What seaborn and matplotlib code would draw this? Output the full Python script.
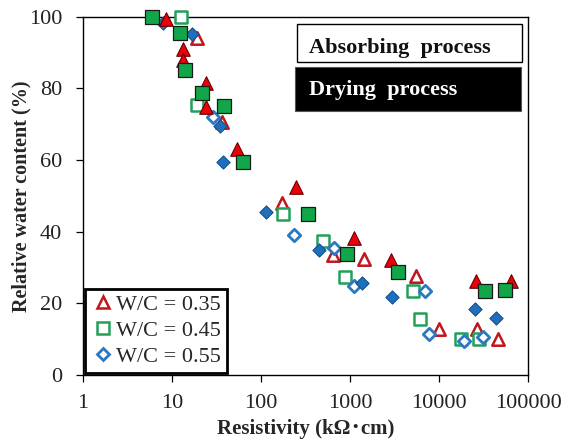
import matplotlib
matplotlib.use("Agg")
import matplotlib.pyplot as plt
from matplotlib.patches import Rectangle
from matplotlib.ticker import NullLocator
import seaborn as sns
import pandas as pd

# Resistivity (kOhm·cm) and relative water content (%) per mix and process
dry_035_res = [8.6, 13.4, 13.2, 23.9, 23.9, 54, 247, 1109, 2870, 25850, 64400]
dry_035_rwc = [99.3, 91.0, 88.0, 81.5, 74.7, 63.0, 52.5, 38.3, 32.2, 26.2, 26.2]

abs_035_res = [18.9, 36, 171, 639, 1436, 5520, 10080, 26900, 46400]
abs_035_rwc = [94.0, 70.7, 48.1, 33.5, 32.4, 27.6, 12.7, 12.7, 10.0]

dry_045_res = [5.9, 12.3, 14.0, 21.9, 38.7, 62.3, 335, 933, 3490, 32900, 55200]
dry_045_rwc = [100, 95.3, 85.1, 78.7, 75.0, 59.3, 44.8, 33.8, 28.7, 23.5, 23.7]

abs_045_res = [12.6, 18.9, 175, 501, 879, 5140, 6120, 17660, 28100]
abs_045_rwc = [100, 75.3, 44.9, 37.4, 27.4, 23.5, 15.7, 10.1, 10.0]

dry_055_res = [8.0, 16.6, 34.6, 37.7, 114, 452, 1374, 2986, 25200, 43400]
dry_055_rwc = [98.1, 95.0, 69.5, 59.5, 45.4, 34.9, 25.6, 21.7, 18.3, 16.0]

abs_055_res = [29.1, 237, 661, 1109, 6960, 7780, 19230, 31500]
abs_055_rwc = [72.1, 39.0, 35.3, 24.9, 23.5, 11.4, 9.6, 10.7]

legend_labels = ["W/C = 0.35", "W/C = 0.45", "W/C = 0.55"]
x_ticks = [1, 10, 100, 1000, 10000, 100000]
x_tick_labels = ["1", "10", "100", "1000", "10000", "100000"]
y_ticks = [0, 20, 40, 60, 80, 100]

sns.set_theme(style="ticks")
plt.rcParams["font.family"] = ["Liberation Serif", "DejaVu Serif"]

RED, RED_D = "#e8000b", "#c0171e"
GREEN, GREEN_D = "#12a64a", "#22a05a"
BLUE, BLUE_D = "#1f6fbf", "#2a78c2"

fig = plt.figure(figsize=(5.7, 4.43), dpi=100)
ax = fig.add_axes([83 / 570, 1 - 375 / 443, 445 / 570, 358.5 / 443])


def draw(res, rwc, **kw):
    df = pd.DataFrame({"res": res, "rwc": rwc})
    sns.scatterplot(data=df, x="res", y="rwc", ax=ax, legend=False,
                    clip_on=False, **kw)


# absorbing process: open markers
draw(abs_035_res, abs_035_rwc, marker="^", s=80, facecolor="white",
     edgecolor=RED_D, linewidth=1.8, zorder=3)
draw(abs_045_res, abs_045_rwc, marker="s", s=85, facecolor="white",
     edgecolor=GREEN_D, linewidth=1.8, zorder=3)
draw(abs_055_res, abs_055_rwc, marker="D", s=40, facecolor="white",
     edgecolor=BLUE_D, linewidth=2.0, zorder=3)
# drying process: filled markers
draw(dry_055_res, dry_055_rwc, marker="D", s=45, facecolor=BLUE,
     edgecolor="#184f8a", linewidth=0.8, zorder=4)
draw(dry_035_res, dry_035_rwc, marker="^", s=95, facecolor=RED,
     edgecolor="#6a0000", linewidth=0.8, zorder=4)
draw(dry_045_res, dry_045_rwc, marker="s", s=95, facecolor=GREEN,
     edgecolor="#1a1a1a", linewidth=0.9, zorder=4)

ax.set_xscale("log")
ax.set_xlim(1, 100000)
ax.set_ylim(0, 100)
ax.set_xticks(x_ticks, x_tick_labels)
ax.set_yticks(y_ticks)
ax.xaxis.set_minor_locator(NullLocator())
ax.tick_params(axis="both", which="major", direction="out", length=5,
               width=0.9, color="black", labelsize=16, labelcolor="#222222")
ax.tick_params(axis="y", pad=10)
ax.tick_params(axis="x", pad=9)
for side in ["left", "bottom", "top", "right"]:
    ax.spines[side].set_visible(True)
    ax.spines[side].set_color("black")
    ax.spines[side].set_linewidth(1.0)

ax.set_xlabel("Resistivity (kΩ･cm)", fontsize=15, fontweight="bold",
              family=["Liberation Serif", "Noto Sans CJK JP"], labelpad=4)
ax.set_ylabel("Relative water content (%)", fontsize=14.5, fontweight="bold",
              labelpad=-2)

# process boxes
ax.add_patch(Rectangle((0.481, 0.873), 0.5055, 0.106, transform=ax.transAxes,
                       facecolor="white", edgecolor="black", linewidth=1.0,
                       zorder=5))
ax.text(0.508, 0.897, "Absorbing  process", transform=ax.transAxes,
        fontsize=16, fontweight="bold", color="#111111", va="baseline",
        zorder=6)
ax.add_patch(Rectangle((0.476, 0.736), 0.508, 0.122, transform=ax.transAxes,
                       facecolor="black", edgecolor="#555555", linewidth=0.8,
                       zorder=5))
ax.text(0.508, 0.781, "Drying  process", transform=ax.transAxes,
        fontsize=16, fontweight="bold", color="white", va="baseline",
        zorder=6)

# legend for the absorbing series
handles = [
    plt.Line2D([], [], ls="none", marker="^", ms=9, mfc="white",
               mec=RED_D, mew=1.8),
    plt.Line2D([], [], ls="none", marker="s", ms=9, mfc="white",
               mec=GREEN_D, mew=1.8),
    plt.Line2D([], [], ls="none", marker="D", ms=6.5, mfc="white",
               mec=BLUE_D, mew=2.0),
]
leg = ax.legend(handles, legend_labels, loc="lower left",
                bbox_to_anchor=(0.0, 0.0), borderaxespad=0.1, fontsize=16,
                frameon=True, fancybox=False, framealpha=1,
                handlelength=1.1, handletextpad=0.05, borderpad=0.25,
                labelspacing=0.25)
leg.get_frame().set_edgecolor("black")
leg.get_frame().set_linewidth(2.0)
leg.set_zorder(7)

fig.savefig("out.png", dpi=100)
